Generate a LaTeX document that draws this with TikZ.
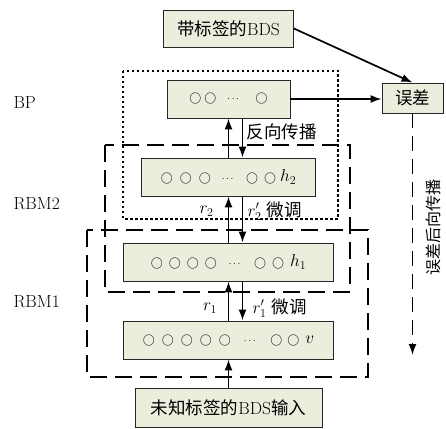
\documentclass[tikz,border=0pt]{standalone}
\usepackage{amsmath,amssymb}
\usepackage{xcolor}
\usepackage{fontspec}
\newfontfamily\cjk{Noto Sans CJK SC}
\usepackage{tikz}
\usetikzlibrary{arrows.meta}
\definecolor{boxfill}{RGB}{237,237,221}
\tikzset{
layer/.style = {rectangle, draw=black!85, fill=boxfill, line width=0.8pt,
                minimum height=#1, inner sep=0pt},
layer/.default = 38pt, % box height
frame/.style = {line width=1.6pt, dash pattern=on 17pt off 8pt},
dotframe/.style = {line width=1.4pt, dash pattern=on 2.5pt off 2.5pt},
flow/.style = {line width=1.7pt, -{Latex[length=11pt,width=8pt]}}
}
\newcommand{\nr}{{\fontsize{12.5}{12.5}\selectfont$\bigcirc$}}
\newcommand{\dd}{{\fontsize{10}{10}\selectfont$\cdots$}}

\begin{document}
\begin{tikzpicture}[x=10pt,y=10pt,font=\fontsize{17.5}{20}\selectfont]
\useasboundingbox (0,0) rectangle (44.6,42.8);

% frames
\draw[dotframe] (12.3,35.7) rectangle (33.8,20.9);
\draw[frame] (10.5,28.3) rectangle (35.0,13.6);
\draw[frame] (8.7,19.8) rectangle (36.8,5.1);

% boxes
\node[layer=37pt, minimum width=130pt] (lab) at (22.85,39.95) {{\cjk 带标签的}BDS};
\node[layer, minimum width=123pt] (bp) at (22.85,32.9)
  {\nr\hspace{3pt}\nr\hspace{11pt}\dd\hspace{15pt}\nr};
\node[layer=30pt, minimum width=61pt] (err) at (41.25,33.0) {\cjk 误差};
\node[layer, minimum width=174pt] (h2) at (22.85,25.1)
  {\nr\hspace{7pt}\nr\hspace{7pt}\nr\hspace{11pt}\dd\hspace{11pt}\nr\hspace{6pt}\nr\hspace{4pt}$h_2$};
\node[layer, minimum width=210pt] (h1) at (22.85,16.6)
  {\nr\hspace{6pt}\nr\hspace{6pt}\nr\hspace{6pt}\nr\hspace{12pt}\dd\hspace{12pt}\nr\hspace{6pt}\nr\hspace{6pt}$h_1$};
\node[layer, minimum width=210pt] (vis) at (22.85,8.8)
  {\nr\hspace{7pt}\nr\hspace{7pt}\nr\hspace{7pt}\nr\hspace{7pt}\nr\hspace{13pt}\dd\hspace{13pt}\nr\hspace{5pt}\nr\hspace{6pt}$v$};
\node[layer=39pt, minimum width=187pt] (inp) at (22.85,2.05) {{\cjk 未知标签的}BDS{\cjk 输入}};

% side labels
\node[anchor=west] (lbp) at (1.0,32.5) {BP};
\node[anchor=west] (lrbm2) at (1.0,22.4) {RBM2};
\node[anchor=west] (lrbm1) at (1.0,12.6) {RBM1};

% arrows
\draw[flow] (lab.east) -- (err.north);
\draw[flow] (bp.east) -- (bp.east -| err.west);
\coordinate (errend) at (41.25,7.3);
\draw[flow, dash pattern=on 15pt off 8pt] (err.south) -- (errend);
\node[rotate=90, font=\fontsize{16}{18}\selectfont\cjk] (backprop) at (43.3,20.0) {误差后向传播};

\draw[flow] (h2.north) -- (bp.south);
\draw[flow] ([xshift=14pt]bp.south) -- ([xshift=14pt]h2.north);
\draw[flow] (h1.north) -- (h2.south);
\draw[flow] ([xshift=14pt]h2.south) -- ([xshift=14pt]h1.north);
\draw[flow] (vis.north) -- (h1.south);
\draw[flow] ([xshift=14pt]h1.south) -- ([xshift=14pt]vis.north);
\draw[flow] (inp.north) -- (vis.south);

\node[anchor=west, font=\fontsize{17.5}{20}\selectfont\cjk] (bpl) at (24.3,29.6) {反向传播};
\node (r2) at (20.65,21.7) {$r_2$};
\node[anchor=west] (r2f) at (24.4,21.7) {$r_2'$ {\cjk 微调}};
\node (r1) at (21.0,12.0) {$r_1$};
\node[anchor=west] (r1f) at (24.9,12.0) {$r_1'$ {\cjk 微调}};
\end{tikzpicture}
\end{document}
